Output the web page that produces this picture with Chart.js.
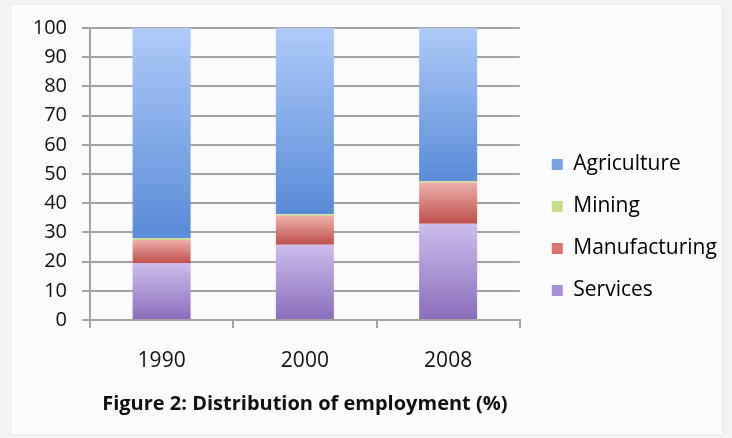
<!DOCTYPE html>
<html>
<head>
<meta charset="utf-8">
<script src="https://cdn.jsdelivr.net/npm/chart.js@4/dist/chart.umd.min.js"></script>
<style>
  html, body { margin: 0; padding: 0; background: #f3f3f3; }
  #wrap { width: 732px; height: 438px; }
</style>
</head>
<body>
<div id="wrap"><canvas id="c" width="732" height="438"></canvas></div>
<script>
// Employment shares by sector (%), stacked bottom to top
const years = ['1990', '2000', '2008'];
const services = [19.5, 25.8, 33.0];
const manufacturing = [8.0, 9.9, 14.1];
const mining = [0.6, 0.5, 0.5];
const agriculture = [71.9, 63.8, 52.4];
const yTicks = [0, 10, 20, 30, 40, 50, 60, 70, 80, 90, 100];

const series = [services, manufacturing, mining, agriculture];
const FONT = "'Open Sans', 'DejaVu Sans', sans-serif";

// Vertical gradient per stacked segment: lighter at the top, deeper at the bottom
function segmentFill(light, dark) {
  return (ctx) => {
    const chart = ctx.chart;
    const area = chart.chartArea;
    if (!area || ctx.type !== 'data' || !chart.scales.y) return dark;
    const i = ctx.dataIndex, d = ctx.datasetIndex;
    let base = 0;
    for (let k = 0; k < d; k++) base += series[k][i];
    const yTop = chart.scales.y.getPixelForValue(base + series[d][i]);
    const yBot = chart.scales.y.getPixelForValue(base);
    if (!isFinite(yTop) || !isFinite(yBot) || yTop === yBot) return dark;
    const g = chart.ctx.createLinearGradient(0, yTop, 0, yBot);
    g.addColorStop(0, light);
    g.addColorStop(1, dark);
    return g;
  };
}

const swatch = {
  Services: '#a690d4',
  Manufacturing: '#d8746f',
  Mining: '#c4de86',
  Agriculture: '#76a2e2'
};

const panelBg = {
  id: 'panelBg',
  beforeDraw(chart) {
    const c = chart.ctx;
    c.save();
    c.fillStyle = '#f3f3f3';
    c.fillRect(0, 0, chart.width, chart.height);
    c.fillStyle = '#fbfbfb';
    c.fillRect(10, 4, 713, 431);
    c.strokeStyle = '#ececec';
    c.lineWidth = 1;
    c.strokeRect(10.5, 4.5, 712, 430);
    c.restore();
  }
};

// Leave a little more room between the plot and the legend swatches
const legendInset = {
  id: 'legendInset',
  afterLayout(chart) {
    const l = chart.legend;
    if (l) {
      l.left += 11;
      l.right = chart.width;
      l.top += 3;
      l.bottom += 3;
    }
  }
};

new Chart(document.getElementById('c'), {
  type: 'bar',
  data: {
    labels: years,
    datasets: [
      { label: 'Services', data: services, backgroundColor: segmentFill('#cdbdec', '#8a6dbb') },
      { label: 'Manufacturing', data: manufacturing, backgroundColor: segmentFill('#eeb0ab', '#bf4f4b') },
      { label: 'Mining', data: mining, backgroundColor: segmentFill('#dcefa8', '#b3d16a') },
      { label: 'Agriculture', data: agriculture, backgroundColor: segmentFill('#aecbf9', '#5a8bd8') }
    ]
  },
  options: {
    responsive: false,
    animation: false,
    layout: { padding: { left: 0, top: 28, right: 39, bottom: 17 } },
    datasets: { bar: { barPercentage: 0.81, categoryPercentage: 0.5, borderWidth: 0 } },
    scales: {
      x: {
        stacked: true,
        offset: true,
        grid: { display: true, drawOnChartArea: false, drawTicks: true, tickLength: 8, color: '#a3a3a3', lineWidth: 2, offset: true },
        border: { display: true, color: '#a3a3a3', width: 2 },
        ticks: { color: '#111', font: { family: FONT, size: 21 }, padding: 20 },
        afterFit(s) { s.height = 52; }
      },
      y: {
        stacked: true,
        min: 0,
        max: 100,
        afterBuildTicks(s) { s.ticks = yTicks.map(v => ({ value: v })); },
        grid: { color: '#a3a3a3', lineWidth: 2, tickLength: 8 },
        border: { display: true, color: '#a3a3a3', width: 2 },
        ticks: { color: '#111', font: { family: FONT, size: 20 }, padding: 15 },
        afterFit(s) { s.width = 90; }
      }
    },
    plugins: {
      legend: {
        position: 'right',
        align: 'center',
        labels: {
          color: '#111',
          font: { family: FONT, size: 21 },
          boxWidth: 11,
          boxHeight: 11,
          padding: 21,
          generateLabels(chart) {
            return chart.data.datasets.map((ds, i) => ({
              text: ds.label,
              fillStyle: swatch[ds.label],
              strokeStyle: swatch[ds.label],
              lineWidth: 0,
              hidden: false,
              datasetIndex: i
            })).reverse();
          }
        }
      },
      title: {
        display: true,
        position: 'bottom',
        fullSize: false,
        text: 'Figure 2: Distribution of employment (%)',
        color: '#111',
        font: { family: FONT, size: 20, weight: 'bold' },
        padding: { top: 20, bottom: 5 }
      },
      tooltip: { enabled: false }
    }
  },
  plugins: [panelBg, legendInset]
});
</script>
</body>
</html>
